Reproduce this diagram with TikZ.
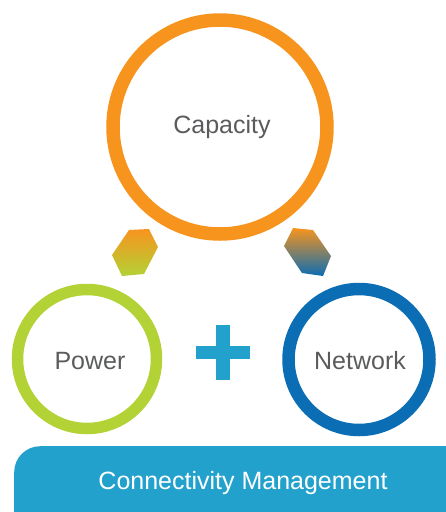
\documentclass[tikz,border=0pt]{standalone}
\usepackage{fontspec}
\setmainfont{Liberation Sans}
\usetikzlibrary{shapes.geometric}
\definecolor{corange}{HTML}{F7941E}
\definecolor{cgreen}{HTML}{B3D235}
\definecolor{cblue}{HTML}{0B6DB3}
\definecolor{ccyan}{HTML}{22A1CC}
\definecolor{cgray}{HTML}{5A5B5D}
\begin{document}
\begin{tikzpicture}[x=1pt,y=-1pt,
  ring/.style={circle, draw, inner sep=0pt},
  lbl/.style={text=cgray, font=\fontsize{25}{28}\selectfont, inner sep=0pt},
  bar/.style={fill=ccyan, draw=none},
]
\useasboundingbox (0,0) rectangle (446,512);
% circles
\node[ring, draw=corange, line width=13.5pt, minimum size=214pt] (cap) at (220,127) {};
\node[ring, draw=cgreen, line width=11.5pt, minimum size=139pt] (pow) at (87,359) {};
\node[ring, draw=cblue, line width=12.5pt, minimum size=141pt] (net) at (359,359.5) {};
\node[lbl] (capt) at (222,127) {Capacity};
\node[lbl] (powt) at (90,361) {Power};
\node[lbl] (nett) at (360,361) {Network};
% hexagons
\shade[top color=corange, bottom color=cgreen]
  (129,230) -- (149,229) -- (158,247) -- (144,274) -- (122,276) -- (112,255) -- cycle;
\shade[top color=corange, bottom color=cblue]
  (293,228) -- (313,230) -- (331,256) -- (323,276) -- (302,273) -- (284,246) -- cycle;
% plus
\fill[bar] (216,325) rectangle (230,380);
\fill[bar] (196,346) rectangle (250,359);
% bottom bar
\begin{scope}
\clip (0,0) rectangle (446,512);
\node[fill=ccyan, rounded corners=26pt, minimum width=460pt, minimum height=100pt, anchor=north west, inner sep=0pt] (bar) at (14,446) {};
\end{scope}
\node[text=white, font=\fontsize{25}{28}\selectfont, inner sep=0pt] (cm) at (243,483) {Connectivity Management};
\end{tikzpicture}
\end{document}
